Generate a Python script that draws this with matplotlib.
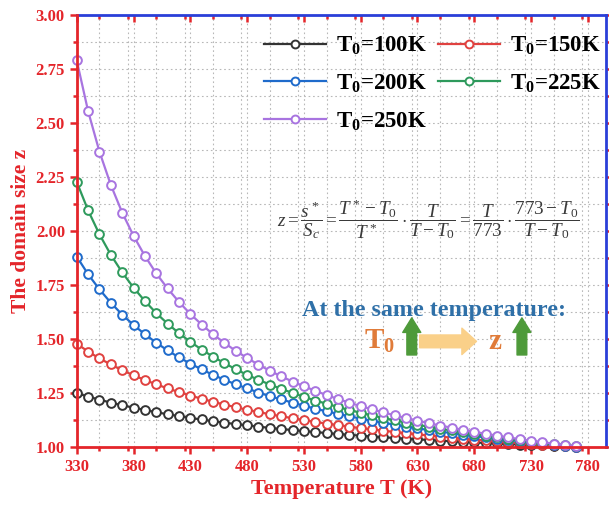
import matplotlib

matplotlib.use("Agg")
import matplotlib.pyplot as plt
from matplotlib.ticker import FormatStrFormatter, MultipleLocator

RED = "#E4252A"
BLUE = "#2a3fd8"
TEXT_BLUE = "#2F70A8"
ORANGE = "#E07B39"
GREEN = "#4E9A3A"
YELLOW = "#FAD089"

# Temperature points (K)
T = [330, 340, 350, 360, 370, 380, 390, 400, 410, 420, 430, 440, 450, 460, 470,
     480, 490, 500, 510, 520, 530, 540, 550, 560, 570, 580, 590, 600, 610, 620,
     630, 640, 650, 660, 670, 680, 690, 700, 710, 720, 730, 740, 750, 760, 770]

Z_100 = [1.249, 1.233, 1.219, 1.205, 1.193, 1.182, 1.171, 1.161, 1.151, 1.143,
         1.134, 1.127, 1.119, 1.112, 1.106, 1.100, 1.094, 1.088, 1.083, 1.078,
         1.073, 1.069, 1.064, 1.060, 1.056, 1.052, 1.048, 1.045, 1.041, 1.038,
         1.035, 1.032, 1.029, 1.026, 1.023, 1.021, 1.018, 1.016, 1.013, 1.011,
         1.009, 1.007, 1.005, 1.003, 1.001]
Z_150 = [1.478, 1.442, 1.410, 1.382, 1.355, 1.332, 1.310, 1.290, 1.271, 1.254,
         1.238, 1.223, 1.209, 1.196, 1.184, 1.172, 1.162, 1.151, 1.142, 1.133,
         1.124, 1.116, 1.108, 1.101, 1.094, 1.087, 1.081, 1.075, 1.069, 1.063,
         1.058, 1.053, 1.048, 1.043, 1.038, 1.034, 1.030, 1.026, 1.022, 1.018,
         1.014, 1.011, 1.007, 1.004, 1.001]
Z_200 = [1.882, 1.800, 1.730, 1.668, 1.613, 1.565, 1.522, 1.483, 1.447, 1.415,
         1.386, 1.359, 1.334, 1.311, 1.290, 1.271, 1.252, 1.235, 1.220, 1.205,
         1.191, 1.177, 1.165, 1.153, 1.142, 1.131, 1.121, 1.112, 1.103, 1.094,
         1.086, 1.078, 1.071, 1.064, 1.057, 1.050, 1.044, 1.038, 1.032, 1.026,
         1.021, 1.016, 1.011, 1.006, 1.001]
Z_225 = [2.228, 2.096, 1.985, 1.890, 1.809, 1.738, 1.676, 1.620, 1.571, 1.527,
         1.487, 1.451, 1.418, 1.388, 1.360, 1.334, 1.311, 1.289, 1.269, 1.250,
         1.232, 1.215, 1.200, 1.185, 1.171, 1.158, 1.146, 1.134, 1.123, 1.113,
         1.103, 1.093, 1.084, 1.076, 1.067, 1.059, 1.052, 1.045, 1.038, 1.031,
         1.025, 1.019, 1.013, 1.007, 1.002]
Z_250 = [2.791, 2.556, 2.368, 2.214, 2.086, 1.978, 1.885, 1.804, 1.734, 1.672,
         1.616, 1.567, 1.522, 1.482, 1.445, 1.412, 1.381, 1.353, 1.327, 1.303,
         1.281, 1.260, 1.240, 1.222, 1.205, 1.189, 1.174, 1.160, 1.146, 1.134,
         1.122, 1.110, 1.099, 1.089, 1.079, 1.070, 1.061, 1.052, 1.044, 1.036,
         1.029, 1.022, 1.015, 1.008, 1.002]

SERIES = [
    (Z_100, "#333333", r"T$_\mathbf{0}$=100K"),
    (Z_150, "#E0413F", r"T$_\mathbf{0}$=150K"),
    (Z_200, "#1F6BCB", r"T$_\mathbf{0}$=200K"),
    (Z_225, "#2E9A5C", r"T$_\mathbf{0}$=225K"),
    (Z_250, "#A874E0", r"T$_\mathbf{0}$=250K"),
]

plt.rcParams.update(
    {
        "font.family": "Liberation Serif",
        "font.weight": "bold",
        "mathtext.fontset": "custom",
        "mathtext.rm": "Liberation Serif:normal",
        "mathtext.it": "Liberation Serif:italic:normal",
        "mathtext.bf": "Liberation Serif:bold",
    }
)

fig = plt.figure(figsize=(6.09, 5.09), dpi=100)
ax = fig.add_axes([0.126, 0.122, 0.869, 0.848])

handles = []
for z, color, label in SERIES:
    (line,) = ax.plot(T, z, color=color, linewidth=1.6, marker="o", markersize=6.3,
                      markerfacecolor="white", markeredgecolor=color, markeredgewidth=1.4,
                      label=label, clip_on=False, zorder=3)
    handles.append(line)

ax.set_xlim(330, 796)
ax.set_ylim(1.0, 3.0)
ax.xaxis.set_minor_locator(MultipleLocator(25))
ax.yaxis.set_major_locator(MultipleLocator(0.25))
ax.yaxis.set_minor_locator(MultipleLocator(0.125))
ax.set_xticks(range(330, 781, 50))
ax.yaxis.set_major_formatter(FormatStrFormatter("%.2f"))

ax.grid(True, which="both", color="#B8B8B8", linestyle=(0, (1.5, 2.5)), linewidth=0.8)
ax.set_axisbelow(True)

for side, color in (("left", RED), ("bottom", RED), ("top", BLUE), ("right", BLUE)):
    ax.spines[side].set_color(color)
    ax.spines[side].set_linewidth(2.0)
ax.spines["left"].set_zorder(4)
ax.spines["bottom"].set_zorder(4)

ax.tick_params(axis="both", which="both", bottom=True, top=True, left=True, right=True,
               direction="out", colors=RED, labelcolor=RED, labelsize=12, width=1.8)
ax.tick_params(which="major", length=5)
ax.tick_params(which="minor", length=3)
for t in ax.xaxis.get_ticklines(minor=False)[1::2] + ax.xaxis.get_ticklines(minor=True)[1::2]:
    t.set_color(BLUE)
    t.set_marker(3)
for t in ax.yaxis.get_ticklines(minor=False)[1::2] + ax.yaxis.get_ticklines(minor=True)[1::2]:
    t.set_color(BLUE)

ax.set_xlabel("Temperature T (K)", color=RED, fontsize=16, fontweight="bold", labelpad=3)
ax.set_ylabel("The domain size z", color=RED, fontsize=15.5, fontweight="bold", labelpad=3)

# row-major legend order like the original: 100 150 / 200 225 / 250
order = [0, 2, 4, 1, 3]
ax.legend([handles[i] for i in order], [SERIES[i][2] for i in order],
          ncol=2, loc="upper right", bbox_to_anchor=(1.0, 0.966), frameon=False,
          prop={"family": "Liberation Serif", "weight": "bold", "size": 16.5},
          handlelength=2.7, columnspacing=0.5, handletextpad=0.45, labelspacing=0.68,
          borderaxespad=0.0, borderpad=0.2, markerscale=0.9)

ax.text(639, 2.055,
        r"$z=\dfrac{s^*}{S_c}=\dfrac{T^*-T_0}{T^*}\cdot\dfrac{T}{T-T_0}=\dfrac{T}{773}\cdot\dfrac{773-T_0}{T-T_0}$",
        ha="center", va="center", fontsize=13.8, fontweight="normal", color="#3a3a3a")

ax.text(645, 1.634, "At the same temperature:", ha="center", va="center",
        fontsize=17.3, fontweight="bold", color=TEXT_BLUE)
ax.text(597, 1.49, r"T$_\mathbf{0}$", ha="center", va="center",
        fontsize=21, fontweight="bold", color=ORANGE)
ax.text(698, 1.487, "z", ha="center", va="center",
        fontsize=21, fontweight="bold", color=ORANGE)

arrow_green = dict(arrowstyle="simple,head_width=1.3,head_length=1.05,tail_width=0.7",
                   color=GREEN, shrinkA=0, shrinkB=0)
ax.annotate("", xy=(625, 1.598), xytext=(625, 1.426), arrowprops=arrow_green)
ax.annotate("", xy=(722, 1.598), xytext=(722, 1.426), arrowprops=arrow_green)
ax.annotate("", xy=(682, 1.489), xytext=(632, 1.489),
            arrowprops=dict(arrowstyle="simple,head_width=1.9,head_length=1.05,tail_width=0.92",
                            color=YELLOW, shrinkA=0, shrinkB=0))

fig.savefig("out.png", dpi=100)
